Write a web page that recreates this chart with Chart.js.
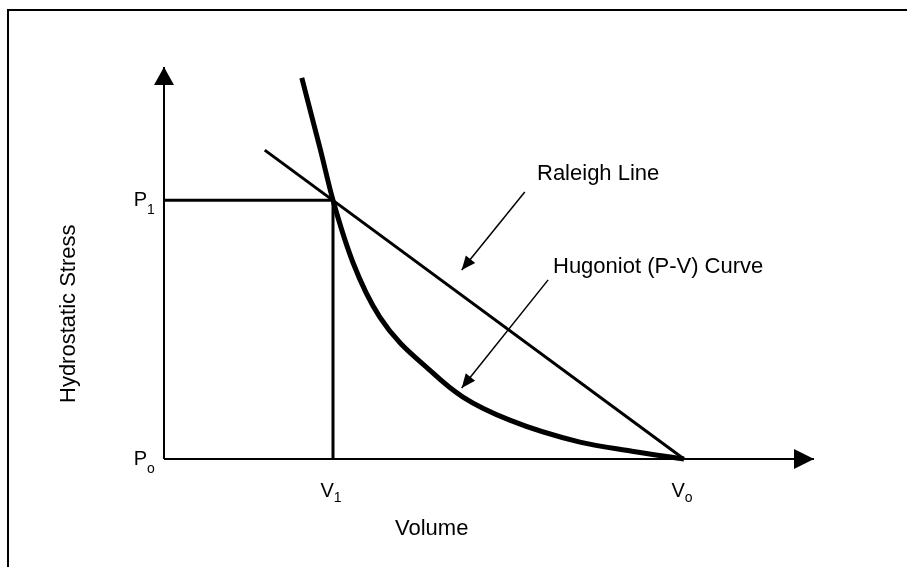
<!DOCTYPE html>
<html>
<head>
<meta charset="utf-8">
<title>Hugoniot and Raleigh line</title>
<script src="https://cdn.jsdelivr.net/npm/chart.js@4.4.1/dist/chart.umd.min.js"></script>
<style>
  html, body { margin: 0; padding: 0; background: #fff; }
  canvas { display: block; }
</style>
</head>
<body>
<canvas id="pv-chart" width="907" height="567"></canvas>
<script>
// values (arbitrary units, axes run 0..100)
const V1 = 26;
const V0 = 80;
const P1 = 66;
const P0 = 0;

// Hugoniot (P-V) curve
const hugoniotV = [21.2, 24.0, 26.0, 29.1, 33.2, 41.4, 46.0, 53.2, 64.0, 72.0, 80.0];
const hugoniotP = [97.2, 79.3, 66.0, 50.0, 36.2, 21.9, 15.8, 9.9, 4.3, 2.0, 0];

// Raleigh line from its upper end down to (V0, P0)
const raleighV = [15.5, V0];
const raleighP = [78.8, P0];

// pointer arrows for the two labels (start -> tip)
const raleighArrowV = [55.5, 45.8];
const raleighArrowP = [68.1, 48.2];
const hugoniotArrowV = [59.1, 45.8];
const hugoniotArrowP = [45.7, 18.1];

// tick labels
const xTickValues = [V1, V0];
const xTickMain = ['V', 'V'];
const xTickSub = ['1', 'o'];
const yTickValues = [P1, P0];
const yTickMain = ['P', 'P'];
const yTickSub = ['1', 'o'];

const xTitle = 'Volume';
const yTitle = 'Hydrostatic Stress';
const raleighLabel = 'Raleigh Line';
const hugoniotLabel = 'Hugoniot (P-V) Curve';

function toPoints(xs, ys) {
    return xs.map((x, i) => ({ x: x, y: ys[i] }));
}

document.addEventListener("DOMContentLoaded", function() {
    const ctx = document.getElementById('pv-chart').getContext('2d');
    const FONT = '"Liberation Sans", Arial, sans-serif';

    function lineSet(points, width, extra) {
        return Object.assign({
            data: points,
            showLine: true,
            borderColor: '#000',
            backgroundColor: '#000',
            borderWidth: width,
            pointRadius: 0,
            clip: false,
            tension: 0
        }, extra || {});
    }

    // frame and arrow heads
    const decorPlugin = {
        id: 'decor',
        beforeDraw(chart) {
            const c = chart.ctx;
            c.save();
            c.fillStyle = '#fff';
            c.fillRect(0, 0, chart.width, chart.height);
            c.strokeStyle = '#000';
            c.lineWidth = 2;
            c.beginPath();
            c.moveTo(8, chart.height);
            c.lineTo(8, 10);
            c.lineTo(chart.width, 10);
            c.stroke();
            c.restore();
        },
        afterDatasetsDraw(chart) {
            const c = chart.ctx;
            chart.data.datasets.forEach((ds, i) => {
                if (!ds.arrow) return;
                const pts = chart.getDatasetMeta(i).data;
                const a = pts[pts.length - 2], b = pts[pts.length - 1];
                const ang = Math.atan2(b.y - a.y, b.x - a.x);
                const len = ds.arrow.len, half = ds.arrow.half;
                c.save();
                c.translate(b.x, b.y);
                c.rotate(ang);
                c.fillStyle = '#000';
                c.beginPath();
                c.moveTo(0, 0);
                c.lineTo(-len, -half);
                c.lineTo(-len, half);
                c.closePath();
                c.fill();
                c.restore();
            });
        },
        afterDraw(chart) {
            const c = chart.ctx;
            const xs = chart.scales.x, ys = chart.scales.y;
            c.save();
            c.fillStyle = '#000';
            c.textBaseline = 'alphabetic';

            // V ticks under the axis
            xTickValues.forEach((v, i) => {
                c.font = '20px ' + FONT;
                const wMain = c.measureText(xTickMain[i]).width;
                c.font = '14px ' + FONT;
                const wSub = c.measureText(xTickSub[i]).width;
                const left = xs.getPixelForValue(v) - 2 - (wMain + wSub) / 2;
                const base = ys.getPixelForValue(P0) + 38;
                c.font = '20px ' + FONT;
                c.fillText(xTickMain[i], left, base);
                c.font = '14px ' + FONT;
                c.fillText(xTickSub[i], left + wMain, base + 5);
            });

            // P ticks left of the axis
            yTickValues.forEach((v, i) => {
                const right = xs.getPixelForValue(0) - 17;
                const base = ys.getPixelForValue(v) + 6;
                c.font = '20px ' + FONT;
                c.textAlign = 'right';
                c.fillText(yTickMain[i], right, base);
                c.font = '14px ' + FONT;
                c.textAlign = 'left';
                c.fillText(yTickSub[i], right, base + 8);
            });

            c.font = '22px ' + FONT;
            c.textAlign = 'left';
            c.fillText(xTitle, 395, 535);
            c.fillText(raleighLabel, 537, 180);
            c.fillText(hugoniotLabel, 553, 273);

            c.translate(75, 403);
            c.rotate(-Math.PI / 2);
            c.fillText(yTitle, 0, 0);
            c.restore();
        }
    };

    new Chart(ctx, {
        type: 'scatter',
        data: {
            datasets: [
                lineSet(toPoints([0, 100], [0, 0]), 2, { arrow: { len: 20, half: 10 } }),
                lineSet(toPoints([0, 0], [0, 100]), 2, { arrow: { len: 18, half: 10 } }),
                lineSet(toPoints([0, V1], [P1, P1]), 3),
                lineSet(toPoints([V1, V1], [P1, P0]), 3),
                lineSet(toPoints(raleighV, raleighP), 3),
                lineSet(toPoints(hugoniotV, hugoniotP), 5, { cubicInterpolationMode: 'monotone' }),
                lineSet(toPoints(raleighArrowV, raleighArrowP), 1.5, { arrow: { len: 14, half: 6 } }),
                lineSet(toPoints(hugoniotArrowV, hugoniotArrowP), 1.5, { arrow: { len: 14, half: 6 } })
            ]
        },
        options: {
            responsive: false,
            devicePixelRatio: 1,
            animation: false,
            events: [],
            layout: { padding: { left: 164, right: 93, top: 67, bottom: 108 } },
            scales: {
                x: { type: 'linear', min: 0, max: 100, display: false },
                y: { type: 'linear', min: 0, max: 100, display: false }
            },
            plugins: {
                legend: { display: false },
                tooltip: { enabled: false }
            }
        },
        plugins: [decorPlugin]
    });
});
</script>
</body>
</html>
